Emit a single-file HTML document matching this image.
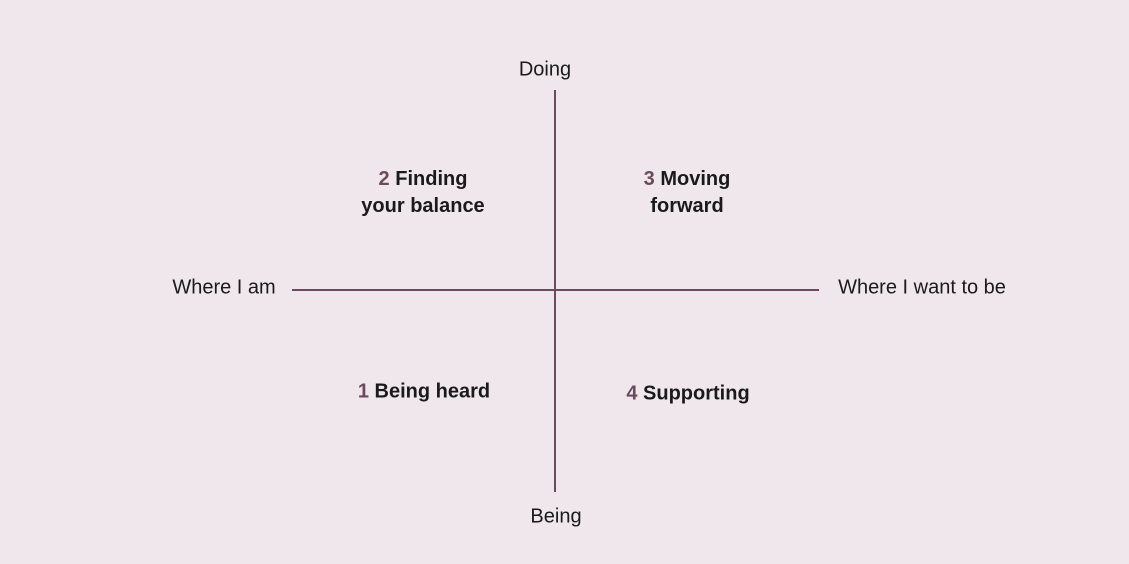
<!DOCTYPE html>
<html><head><style>
body{margin:0;width:1129px;height:564px;background:#efe7eb;position:relative;overflow:hidden;font-family:"Liberation Sans",sans-serif;color:#1a1a1a}
.t{position:absolute;font-size:20px;white-space:nowrap;transform:translate(-50%,-50%)}
.b{font-weight:bold;text-align:center;line-height:27px;font-size:20px}
.n{color:#6b4a5e}
.l{position:absolute;background:#6b4a5e}
</style></head><body>
<div class="l" style="left:554px;top:90px;width:2px;height:402px"></div>
<div class="l" style="left:292px;top:289px;width:527px;height:2px"></div>
<div class="t" style="left:545px;top:70px">Doing</div>
<div class="t" style="left:556px;top:517px">Being</div>
<div class="t" style="left:224px;top:288px">Where I am</div>
<div class="t" style="left:922px;top:288px">Where I want to be</div>
<div class="t b" style="left:423px;top:193px"><span class="n">2</span> Finding<br>your balance</div>
<div class="t b" style="left:687px;top:193px"><span class="n">3</span> Moving<br>forward</div>
<div class="t b" style="left:424px;top:392px"><span class="n">1</span> Being heard</div>
<div class="t b" style="left:688px;top:394px"><span class="n">4</span> Supporting</div>
</body></html>
